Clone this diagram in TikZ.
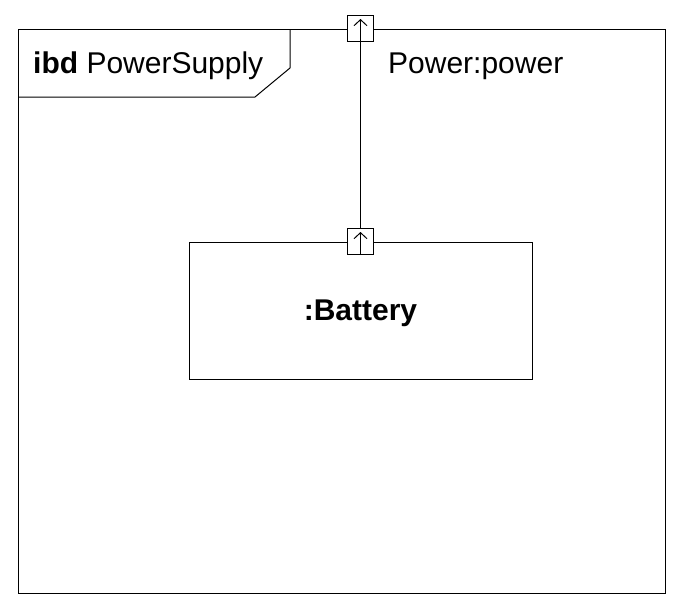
\documentclass[tikz,border=0pt]{standalone}
\usepackage{fontspec}
\setmainfont{Liberation Sans}
\usetikzlibrary{arrows.meta,positioning}

\tikzset{
  block/.style={draw,line width=1pt,inner sep=0pt},
  port/.style={draw,fill=white,line width=1pt,minimum size=26pt,inner sep=0pt},
  lbl/.style={font=\fontsize{30pt}{36pt}\selectfont,inner sep=0pt}
}

\begin{document}
\begin{tikzpicture}[x=1pt,y=-1pt]
	\useasboundingbox (0,0) rectangle (686,614);
	% frame and block
	\node[block,minimum width=647pt,minimum height=564pt] (ps) at (341.5,311) {};
	\node[block,minimum width=343pt,minimum height=137pt,lbl,text depth=0pt,font=\fontsize{30pt}{36pt}\selectfont\bfseries] (battery) at (360.5,310.5) {:Battery};
	% frame heading
	\draw[line width=1pt] (290,29) -- (290,68) -- (255,97) -- (18,97);
	\node[lbl,anchor=west] (title) at (33,66) {\textbf{ibd} PowerSupply};
	% ports
	\node[port] (batport) at (battery.north) {};
	\node[port] (outport) at (batport |- ps.north) {};
	\foreach \p in {batport,outport}
		\draw[line width=1pt,-{Straight Barb[length=6pt,width=13pt,line width=1pt]}] (\p.south) -- ([yshift=-4pt]\p.north);
	\node[lbl,anchor=west] (portname) at (388,66) {Power:power};
	% connector
	\draw[line width=1pt] (outport.south) -- (batport.north);
\end{tikzpicture}
\end{document}
